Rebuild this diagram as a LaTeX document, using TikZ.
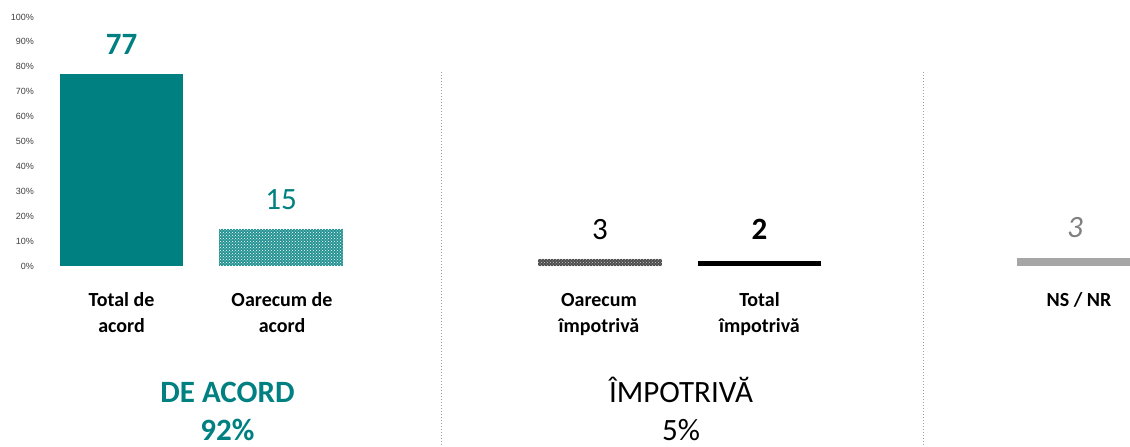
\documentclass[tikz,border=0pt]{standalone}
\usepackage{fontspec}
\setmainfont{Carlito}
\newfontfamily\axisfont{Liberation Sans}
\usetikzlibrary{patterns}
\definecolor{tealc}{HTML}{008080}
\definecolor{axisgray}{HTML}{404040}
\definecolor{divgray}{HTML}{A0A0A0}
\definecolor{nsgray}{HTML}{A6A6A6}
\definecolor{numgray}{HTML}{808080}
\tikzset{
  axislbl/.style={anchor=east,inner sep=0pt,font=\axisfont\fontsize{9}{10}\selectfont,text=axisgray},
  numlbl/.style={anchor=base,inner sep=0pt,font=\fontsize{31}{36}\selectfont},
  catlbl/.style={anchor=base,inner sep=0pt,font=\bfseries\fontsize{20}{26}\selectfont,align=center},
  grplbl/.style={anchor=base,inner sep=0pt,font=\fontsize{31}{38}\selectfont,align=center},
  divider/.style={divgray,line width=0.9pt,dash pattern=on 1pt off 2pt},
}
\begin{document}
\begin{tikzpicture}[x=1pt,y=-1pt]
\useasboundingbox (0,0) rectangle (1130,447);
% axis labels
\foreach \v in {0,10,...,100}{
  \node[axislbl] (ax\v) at (34,{266-2.49*\v}) {\v\%};
}
% bars
\fill[tealc] (60,74.3) rectangle (183,266);
\fill[tealc!85!white] (219,228.6) rectangle (343,266);
\fill[pattern=crosshatch dots,pattern color=white] (219,228.6) rectangle (343,266);
\fill[black!70] (538,258.5) rectangle (662,266);
\fill[pattern=crosshatch dots,pattern color=white!80!black] (538,258.5) rectangle (662,266);
\fill[black] (698,261) rectangle (821,266);
\fill[nsgray] (1017,258) rectangle (1140,266);
% value labels
\node[numlbl,text=tealc,font=\bfseries\fontsize{31}{36}\selectfont] (v1) at (121.5,54) {77};
\node[numlbl,text=tealc] (v2) at (281,209) {15};
\node[numlbl,text=black] (v3) at (600,239) {3};
\node[numlbl,text=black,font=\bfseries\fontsize{31}{36}\selectfont] (v4) at (759.5,239) {2};
\node[numlbl,text=numgray,font=\itshape\fontsize{31}{36}\selectfont] (v5) at (1075,237) {3};
% category labels (base = last line)
\node[catlbl] (c1) at (121.5,332) {Total de\\acord};
\node[catlbl] (c2) at (282,332) {Oarecum de\\acord};
\node[catlbl] (c3) at (599,332) {Oarecum\\împotrivă};
\node[catlbl] (c4) at (759.5,332) {Total\\împotrivă};
\node[catlbl] (c5) at (1079,306) {NS / NR};
% group labels
\node[grplbl,text=tealc,font=\bfseries\fontsize{31}{38}\selectfont] (g1) at (227.5,440) {DE ACORD\\92\%};
\node[grplbl,text=black] (g2) at (681,440) {ÎMPOTRIVĂ\\5\%};
% dividers
\coordinate (d1t) at (441,72); \coordinate (d1b) at (441,447);
\coordinate (d2t) at (923,72); \coordinate (d2b) at (923,447);
\draw[divider] (d1t) -- (d1b);
\draw[divider] (d2t) -- (d2b);
\end{tikzpicture}
\end{document}
